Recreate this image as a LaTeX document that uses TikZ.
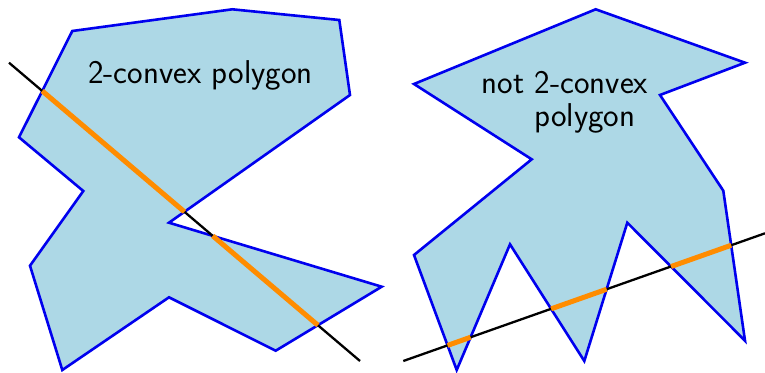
\documentclass[tikz,border=0pt]{standalone}
\usetikzlibrary{calc}
\definecolor{polyfill}{RGB}{173,216,230}
\definecolor{polyedge}{RGB}{0,0,238}
\definecolor{segorange}{RGB}{255,140,0}
\begin{document}
\begin{tikzpicture}[x=1pt,y=-1pt,
  poly/.style={fill=polyfill,draw=polyedge,line width=2.6pt,line join=miter},
  cutline/.style={draw=black,line width=2.3pt},
  inside/.style={draw=segorange,line width=5pt},
  lbl/.style={font=\sffamily\fontsize{33}{37}\selectfont,text=black,inner sep=0pt,anchor=base}]
\useasboundingbox (0,0) rectangle (765,372);
% left polygon
\coordinate (a1) at (72.3,31);
\coordinate (a2) at (232.3,9.3);
\coordinate (a3) at (339.3,20);
\coordinate (a4) at (350,95);
\coordinate (a5) at (169,222.7);
\coordinate (a6) at (381.7,286.7);
\coordinate (a7) at (275.7,350.7);
\coordinate (a8) at (169,297.3);
\coordinate (a9) at (62.3,370);
\coordinate (a10) at (30,265.7);
\coordinate (a11) at (83.3,191);
\coordinate (a12) at (19,137.3);
\draw[poly] (a1)--(a2)--(a3)--(a4)--(a5)--(a6)--(a7)--(a8)--(a9)--(a10)--(a11)--(a12)--cycle;
\coordinate (l1) at (9,62.7);
\coordinate (l2) at (360,361);
\draw[cutline] (l1)--(l2);
\coordinate (p1) at (intersection of l1--l2 and a12--a1);
\coordinate (p2) at (intersection of l1--l2 and a4--a5);
\coordinate (p3) at (intersection of l1--l2 and a5--a6);
\coordinate (p4) at (intersection of l1--l2 and a6--a7);
\draw[inside] (p1)--(p2);
\draw[inside] (p3)--(p4);
\node[lbl] (t1) at (200.5,83) {2-convex polygon};
% right polygon
\coordinate (b1) at (595.7,9.3);
\coordinate (b2) at (745,62.7);
\coordinate (b3) at (660,95);
\coordinate (b4) at (723.3,190.7);
\coordinate (b5) at (745,340.7);
\coordinate (b6) at (627.3,222.7);
\coordinate (b7) at (584.3,361);
\coordinate (b8) at (510,244.3);
\coordinate (b9) at (456.7,370);
\coordinate (b10) at (414,255);
\coordinate (b11) at (531.7,159.3);
\coordinate (b12) at (414,84);
\draw[poly] (b1)--(b2)--(b3)--(b4)--(b5)--(b6)--(b7)--(b8)--(b9)--(b10)--(b11)--(b12)--cycle;
\coordinate (r1) at (403.3,361);
\coordinate (r2) at (765,233.3);
\draw[cutline] (r1)--(r2);
\coordinate (q1) at (intersection of r1--r2 and b9--b10);
\coordinate (q2) at (intersection of r1--r2 and b8--b9);
\coordinate (q3) at (intersection of r1--r2 and b7--b8);
\coordinate (q4) at (intersection of r1--r2 and b6--b7);
\coordinate (q5) at (intersection of r1--r2 and b5--b6);
\coordinate (q6) at (intersection of r1--r2 and b4--b5);
\draw[inside] (q1)--(q2);
\draw[inside] (q3)--(q4);
\draw[inside] (q5)--(q6);
\node[lbl] (t2) at (565,93) {not 2-convex};
\node[lbl] (t3) at (585,126.5) {polygon};
\end{tikzpicture}
\end{document}
